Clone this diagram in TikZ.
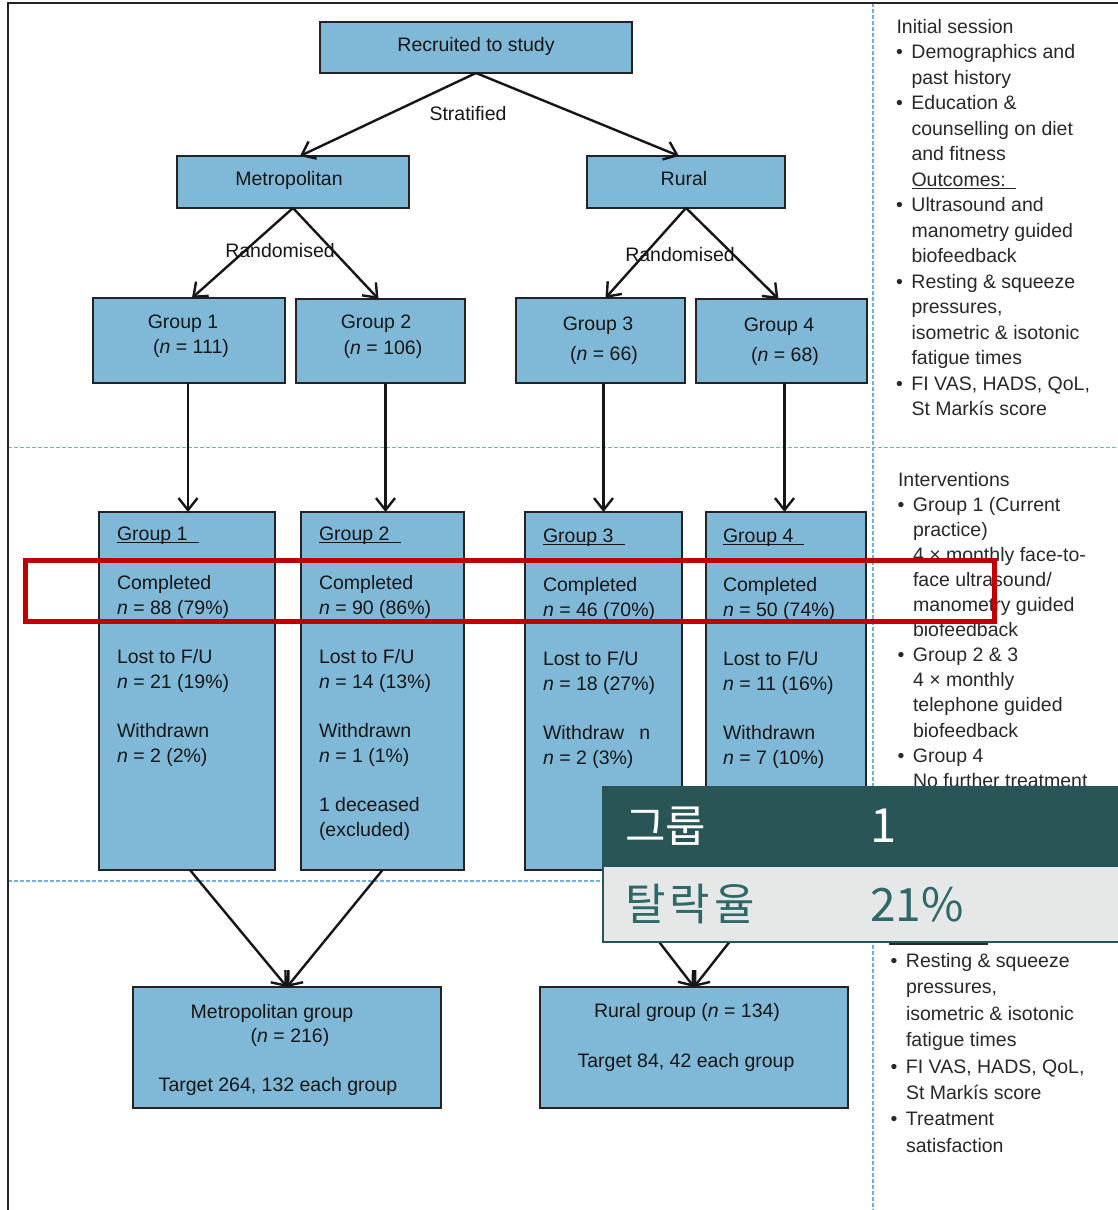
\documentclass[tikz,border=0pt]{standalone}
\usepackage{fontspec}
\setmainfont{Liberation Sans}
\newfontfamily\krfont{Noto Sans CJK KR}
\usetikzlibrary{arrows.meta}

\definecolor{boxblue}{RGB}{128,185,215}
\definecolor{boxedge}{RGB}{35,35,35}
\definecolor{guide}{RGB}{115,175,220}
\definecolor{ink}{RGB}{22,22,22}
\definecolor{paneltext}{RGB}{40,40,40}
\definecolor{markred}{RGB}{192,0,0}
\definecolor{tealdark}{RGB}{42,85,86}
\definecolor{tealtext}{RGB}{46,104,104}
\definecolor{panelgray}{RGB}{230,232,232}

% underlined heading with a rule of given length
\newcommand\ulx[2]{\rlap{\rule[-3pt]{#2}{1.3pt}}#1}
% hanging bullet
\newcommand\blt{\llap{\textbullet\hspace{8.5pt}}}
\newcommand\nvar{\textit{n}}
% box from corner (x1,y1) to (x2,y2)
\newcommand\bxat[5]{\node[bx, minimum width={(#4-#2)*1pt}, minimum height={(#5-#3)*1pt}] (#1) at ({(#2+#4)/2},{(#3+#5)/2}) {};}

\tikzset{
  bx/.style={draw=boxedge, fill=boxblue, line width=1.6pt, inner sep=0pt, outer sep=0pt, rectangle},
  tx/.style={text=ink, inner sep=0pt, outer sep=0pt},
  ptx/.style={text=paneltext, inner sep=0pt, outer sep=0pt, anchor=base west},
  arr/.style={draw=ink, line width=2.4pt, -{Straight Barb[length=12pt,width=19pt]}},
  guideline/.style={draw=guide, line width=1.8pt, dash pattern=on 3.5pt off 2.5pt},
}

\begin{document}
\begin{tikzpicture}[x=1pt,y=-1pt,font=\fontsize{19.5pt}{24pt}\selectfont]
\useasboundingbox (0,0) rectangle (1118,1210);
\fill[white] (0,0) rectangle (1118,1210);

% stage separators
\draw[guideline] (8,447.5) -- (1118,447.5);
\draw[guideline] (8,881) -- (1118,881);
\draw[guideline] (873,3) -- (873,1210);

% outer frame
\draw[boxedge, line width=2pt] (8,1210) -- (8,3) -- (1118,3);

% boxes
\bxat{rec}{320}{22}{632}{73}
\bxat{met}{177}{156}{409}{208}
\bxat{rur}{587}{156}{785}{208}
\bxat{g1}{93}{298}{285}{383}
\bxat{g2}{296}{299}{465}{383}
\bxat{g3}{516}{298}{685}{383}
\bxat{g4}{696}{299}{867}{383}
\bxat{G1}{99}{512}{275}{870}
\bxat{G2}{301}{512}{464}{870}
\bxat{G3}{525}{512}{682}{870}
\bxat{G4}{706}{512}{866}{870}
\bxat{mg}{133}{987}{441}{1108}
\bxat{rg}{540}{987}{848}{1108}

% box labels
\node[tx, anchor=base] (rec-t) at (476,51) {Recruited to study};
\node[tx, anchor=base] (met-t) at (289,185) {Metropolitan};
\node[tx, anchor=base] (rur-t) at (684,185) {Rural};
\node[tx, anchor=base] (strat) at (468,120) {Stratified};
\node[tx, anchor=base] (rand1) at (280,257) {Randomised};
\node[tx, anchor=base] (rand2) at (680,261) {Randomised};

\node[tx, anchor=base] (g1-a) at (183,328) {Group 1};
\node[tx, anchor=base] (g1-b) at (191,353) {(\nvar{} = 111)};
\node[tx, anchor=base] (g2-a) at (376,328) {Group 2};
\node[tx, anchor=base] (g2-b) at (383,354) {(\nvar{} = 106)};
\node[tx, anchor=base] (g3-a) at (598,330) {Group 3};
\node[tx, anchor=base] (g3-b) at (604,360) {(\nvar{} = 66)};
\node[tx, anchor=base] (g4-a) at (779,331) {Group 4};
\node[tx, anchor=base] (g4-b) at (785,361) {(\nvar{} = 68)};

\foreach \s/\t [count=\i] in {0/{\ulx{Group 1}{82pt}}, 2/Completed, 3/{\nvar{} = 88 (79\%)},
    5/{Lost to F/U}, 6/{\nvar{} = 21 (19\%)}, 8/Withdrawn, 9/{\nvar{} = 2 (2\%)}}
  \node[tx, anchor=base west] (c1-\i) at (117,{540+24.7*\s}) {\t};
\foreach \s/\t [count=\i] in {0/{\ulx{Group 2}{82pt}}, 2/Completed, 3/{\nvar{} = 90 (86\%)},
    5/{Lost to F/U}, 6/{\nvar{} = 14 (13\%)}, 8/Withdrawn, 9/{\nvar{} = 1 (1\%)},
    11/{1 deceased}, 12/{(excluded)}}
  \node[tx, anchor=base west] (c2-\i) at (319,{540+24.7*\s}) {\t};
\foreach \s/\t [count=\i] in {0/{\ulx{Group 3}{82pt}}, 2/Completed, 3/{\nvar{} = 46 (70\%)},
    5/{Lost to F/U}, 6/{\nvar{} = 18 (27\%)}, 8/{Withdraw\hspace{15pt}n}, 9/{\nvar{} = 2 (3\%)}}
  \node[tx, anchor=base west] (c3-\i) at (543,{542+24.7*\s}) {\t};
\foreach \s/\t [count=\i] in {0/{\ulx{Group 4}{81pt}}, 2/Completed, 3/{\nvar{} = 50 (74\%)},
    5/{Lost to F/U}, 6/{\nvar{} = 11 (16\%)}, 8/Withdrawn, 9/{\nvar{} = 7 (10\%)}}
  \node[tx, anchor=base west] (c4-\i) at (723,{542+24.7*\s}) {\t};

\node[tx, anchor=base] (mg-a) at (272,1018) {Metropolitan group};
\node[tx, anchor=base] (mg-b) at (290,1042) {(\nvar{} = 216)};
\node[tx, anchor=base] (mg-c) at (278,1091) {Target 264, 132 each group};
\node[tx, anchor=base] (rg-a) at (687,1017) {Rural group (\nvar{} = 134)};
\node[tx, anchor=base] (rg-c) at (686,1067) {Target 84, 42 each group};

% connectors
\draw[arr] (rec.south) -- ([xshift=7pt]met.north);
\draw[arr] (rec.south) -- ([xshift=-7pt]rur.north);
\draw[arr] (met.south) -- ([xshift=3pt]g1.north);
\draw[arr] (met.south) -- ([xshift=-2pt]g2.north);
\draw[arr] (rur.south) -- ([xshift=5pt]g3.north);
\draw[arr] (rur.south) -- ([xshift=-3pt]g4.north);
\draw[arr] ([xshift=-1pt]g1.south) -- ([xshift=-1pt]g1.south |- G1.north);
\draw[arr] ([xshift=5pt]g2.south) -- ([xshift=5pt]g2.south |- G2.north);
\draw[arr] ([xshift=3pt]g3.south) -- ([xshift=3pt]g3.south |- G3.north);
\draw[arr] ([xshift=3pt]g4.south) -- ([xshift=3pt]g4.south |- G4.north);
\draw[arr] ([xshift=3pt]G1.south) -- (mg.north);
\draw[arr] (G2.south) -- (mg.north);
\draw[arr] (G3.south) -- (rg.north);
\draw[arr] (G4.south) -- (rg.north);

% side panel: initial session
\node[ptx] (ini-h) at (896.5,33) {Initial session};
\foreach \t [count=\i] in {\blt Demographics and, past history, \blt Education \&,
    counselling on diet, and fitness, {\ulx{Outcomes:}{104pt}}, \blt Ultrasound and,
    manometry guided, biofeedback, \blt Resting \& squeeze, {pressures,},
    isometric \& isotonic, fatigue times, {\blt FI VAS, HADS, QoL,}, St Markís score}
  \node[ptx] (ini-\i) at (911.5,{33+25.5*\i}) {\t};

% side panel: interventions
\node[ptx] (int-h) at (898,486) {Interventions};
\foreach \t [count=\i] in {\blt Group 1 (Current, practice), 4 × monthly face-to-,
    face ultrasound/, manometry guided, biofeedback, \blt Group 2 \& 3, 4 × monthly,
    telephone guided, biofeedback, \blt Group 4, No further treatment}
  \node[ptx] (int-\i) at (913,{486+25.1*\i}) {\t};

% side panel: follow-up outcomes
\draw[paneltext, line width=1.4pt] (889,944) -- (988,944);
\foreach \t [count=\i from 0] in {\blt Resting \& squeeze, {pressures,},
    isometric \& isotonic, fatigue times, {\blt FI VAS, HADS, QoL,}, St Markís score,
    \blt Treatment, satisfaction}
  \node[ptx] (fu-\i) at (906,{967.5+26.4*\i}) {\t};

% highlight of the completion rows
\draw[markred, line width=5pt] (25,560) rectangle (994,621);

% summary card
\fill[tealdark] (602,786) rectangle (1120,866);
\draw[tealdark, line width=2pt, fill=panelgray] (603,866) rectangle (1122,942);
\node[inner sep=0pt, anchor=west, text=white, font=\krfont\fontsize{44pt}{50pt}\selectfont] (card-k1) at (625,826.5) {그룹};
\node[inner sep=0pt, anchor=west, text=white, font=\krfont\fontsize{47pt}{50pt}\selectfont] (card-v1) at (870,825.5) {1};
\node[inner sep=0pt, anchor=west, text=tealtext, font=\krfont\fontsize{44pt}{50pt}\selectfont] (card-k2) at (625,904) {탈\hspace{4pt}락\hspace{4pt}율};
\node[inner sep=0pt, anchor=west, text=tealtext, font=\krfont\fontsize{46pt}{50pt}\selectfont] (card-v2) at (870,905) {21\%};
\end{tikzpicture}
\end{document}
